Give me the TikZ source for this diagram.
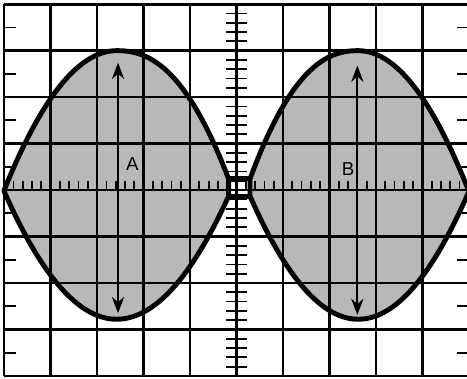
\documentclass[tikz,border=0pt]{standalone}
\usepackage{fontspec}
\setsansfont{Liberation Sans}
\usetikzlibrary{arrows.meta}

\tikzset{
    lobe/.style={fill=black!28, draw=black, line width=3pt, line join=round},
    gridline/.style={line width=1.6pt},
    tickline/.style={line width=1.1pt},
    sizearrow/.style={line width=1.1pt, {Stealth[length=10pt,width=7.5pt]}-{Stealth[length=10pt,width=7.5pt]}}
}

\begin{document}
\begin{tikzpicture}[thick, every node/.style={font=\sffamily\fontsize{11.5}{13}\selectfont}]
    \useasboundingbox (-0.09,-0.065) rectangle (9.96,8.09);
    \clip (-0.09,-0.065) rectangle (9.96,8.09);

    % Shared points of the two lobes
    \coordinate (A_TIP_UP) at (4.83, 4.24);
    \coordinate (A_TIP_DN) at (4.83, 3.87);
    \coordinate (B_TIP_UP) at (5.29, 4.24);
    \coordinate (B_TIP_DN) at (5.29, 3.87);
    \coordinate (A_TOP) at (2.45, 6.74);
    \coordinate (A_BOT) at (2.45, 1.35);
    \coordinate (B_TOP) at (7.60, 6.68);
    \coordinate (B_BOT) at (7.60, 1.31);

    % 1. Lobe A - left
    \draw[lobe] plot[domain=0:2.42, samples=30] (\x, {7.0-3.0*((2.42-\x)/2.42)^2})
        -- plot[domain=2.43:4.83, samples=30] (\x, {7.0-2.76*((\x-2.42)/2.41)^2.3})
        -- (A_TIP_DN)
        -- plot[domain=4.83:2.42, samples=30] (\x, {1.22+2.65*((\x-2.42)/2.41)^2})
        -- plot[domain=2.42:0, samples=30] (\x, {1.22+2.75*((2.42-\x)/2.42)^2})
        -- cycle;

    % 2. Lobe B - right
    \draw[lobe] (B_TIP_DN) -- (B_TIP_UP)
        -- plot[domain=5.29:7.61, samples=30] (\x, {7.0-2.76*((7.62-\x)/2.33)^2.3})
        -- plot[domain=7.62:10, samples=30] (\x, {7.0-3.03*((\x-7.62)/2.38)^2})
        -- plot[domain=10:7.62, samples=30] (\x, {1.22+2.75*((\x-7.62)/2.38)^2})
        -- plot[domain=7.62:5.29, samples=30] (\x, {1.22+2.65*((7.62-\x)/2.33)^2})
        -- cycle;

    % 3. Graticule
    \draw[gridline] (0,0) grid (10,8);

    % 4. Bars joining the lobe tips
    \draw[line width=3pt] (A_TIP_UP) -- (B_TIP_UP);
    \draw[line width=3pt] (A_TIP_DN) -- (B_TIP_DN);

    % 5. Minor ticks on the axes and the side edges
    \foreach \j in {0,...,7} {
        \foreach \k in {1,...,4} {
            \draw[tickline] (4.78, \j+0.2*\k) -- (5.22, \j+0.2*\k);
        }
        \draw[tickline] (0, \j+0.5) -- ++(0.26, 0);
        \draw[tickline] (10, \j+0.5) -- ++(-0.26, 0);
    }
    \foreach \i in {0,...,9} {
        \foreach \k in {1,...,4} {
            \draw[tickline] (\i+0.2*\k, 4) -- ++(0, 0.2);
        }
    }

    % 6. Peak-to-peak arrows
    \draw[sizearrow] (A_BOT) -- (A_TOP);
    \draw[sizearrow] (B_BOT) -- (B_TOP);
    \node (LBL_A) at (2.76, 4.57) {A};
    \node (LBL_B) at (7.40, 4.46) {B};

\end{tikzpicture}
\end{document}
